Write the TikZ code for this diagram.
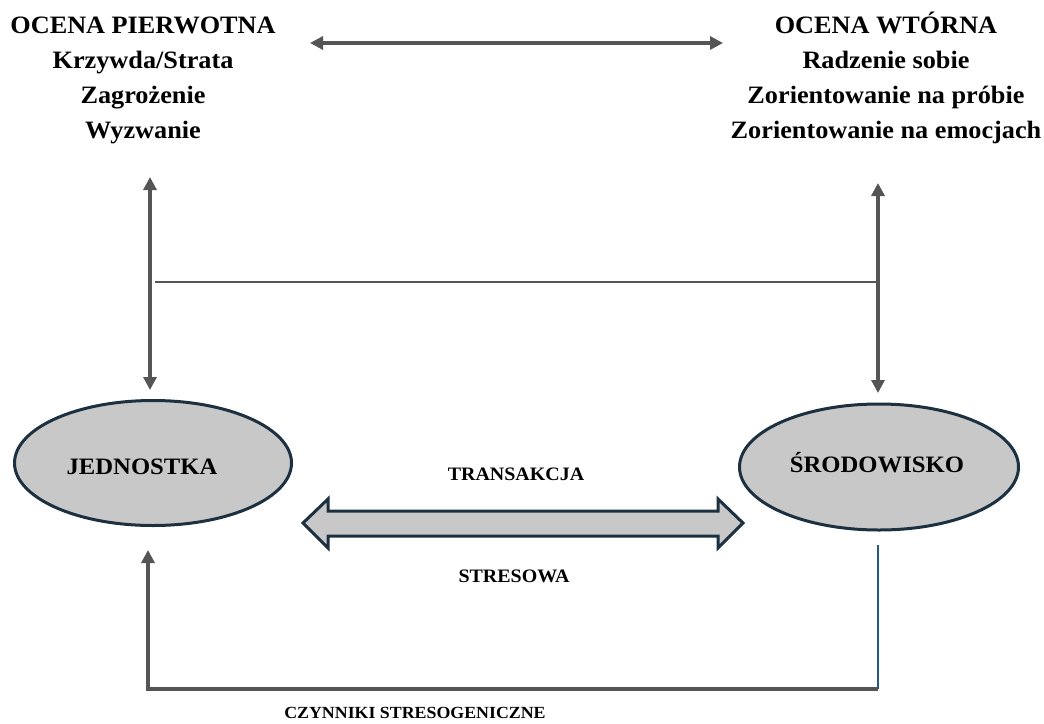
\documentclass[tikz,border=0pt]{standalone}
\usepackage{fontspec}
\setmainfont[FakeStretch=1.05]{Liberation Serif}
\usetikzlibrary{arrows.meta,shapes.geometric}

\definecolor{linegray}{HTML}{555555}
\definecolor{blobfill}{HTML}{C8C8C8}
\definecolor{blobedge}{HTML}{1C3040}
\definecolor{linkblue}{HTML}{1F5C85}

\begin{document}
\begin{tikzpicture}[x=1pt,y=-1pt,
  head/.style={font=\bfseries\fontsize{25}{30}\selectfont, anchor=base, inner sep=0pt},
  blob/.style={ellipse, draw=blobedge, fill=blobfill, line width=3pt, inner sep=0pt},
  blobtext/.style={font=\bfseries\fontsize{23.5}{28}\selectfont, anchor=base, inner sep=0pt},
  midtext/.style={font=\bfseries\fontsize{19}{23}\selectfont, anchor=base, inner sep=0pt},
  foottext/.style={font=\bfseries\fontsize{17}{21}\selectfont, anchor=base, inner sep=0pt},
  tip/.tip={Triangle[length=13pt,width=13pt]},
  link/.style={draw=linegray, line width=3.2pt},
  twoway/.style={link, tip-tip},
  oneway/.style={link, -tip},
  ]
\useasboundingbox (0,0) rectangle (1044,723);

% primary appraisal
\node[head] (p1) at (143,33)  {OCENA PIERWOTNA};
\node[head] (p2) at (143,68)  {Krzywda/Strata};
\node[head] (p3) at (143,103) {Zagrożenie};
\node[head] (p4) at (143,138) {Wyzwanie};

% secondary appraisal
\node[head] (s1) at (886,33)  {OCENA WTÓRNA};
\node[head] (s2) at (886,68)  {Radzenie sobie};
\node[head] (s3) at (886,103) {Zorientowanie na próbie};
\node[head] (s4) at (886,138) {Zorientowanie na emocjach};

% person and environment
\node[blob, minimum width=277pt, minimum height=125pt] (jed) at (153,463) {};
\node[blobtext] (jedt) at (142,474) {JEDNOSTKA};
\node[blob, minimum width=279pt, minimum height=126pt] (sro) at (879,467) {};
\node[blobtext] (srot) at (877,472) {ŚRODOWISKO};

% transaction labels
\node[midtext] (tr) at (516,480) {TRANSAKCJA};
\node[midtext] (st) at (514,582) {STRESOWA};
\node[foottext] (cz) at (415,718) {CZYNNIKI STRESOGENICZNE};

% connector end points
\coordinate (ta) at (310,43);
\coordinate (tb) at (723,43);
\coordinate (lt) at (150,177);
\coordinate (lb) at (150,390);
\coordinate (rt) at (878,183);
\coordinate (rb) at (878,393);
\coordinate (hl) at (155,282);
\coordinate (hr) at (878,282);
\coordinate (bs) at (878,545);
\coordinate (bc) at (878,689);
\coordinate (bl) at (148,689);
\coordinate (be) at (148,550);

% appraisal links
\draw[twoway] (ta) -- (tb);
\draw[twoway] (lt) -- (lb);
\draw[twoway] (rt) -- (rb);
\draw[draw=linegray, line width=2.4pt] (hl) -- (hr);

% stressors fed back to the person
\draw[draw=linkblue, line width=2.6pt] (bs) -- (bc);
\draw[oneway] (bc) -- (bl) -- (be);

% two-headed block arrow of the transaction
\draw[draw=blobedge, fill=blobfill, line width=3pt, line join=miter]
  (303,523) -- (328,499) -- (328,511) -- (718,511) -- (718,499) -- (743,523)
  -- (718,548) -- (718,536) -- (328,536) -- (328,548) -- cycle;
\end{tikzpicture}
\end{document}
